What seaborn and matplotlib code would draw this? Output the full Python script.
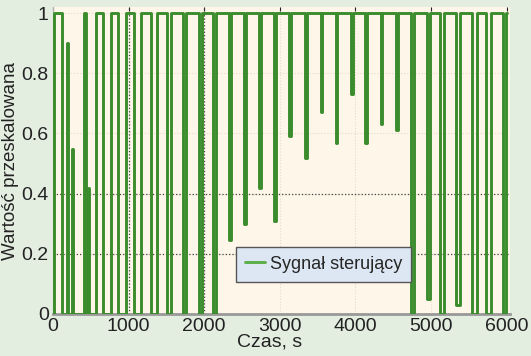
import numpy as np
import pandas as pd
import matplotlib
matplotlib.use('Agg')
import matplotlib.pyplot as plt
import seaborn as sns

# switching instants [s] and the level the signal holds from that instant on
czas = [0, 12, 118, 185, 205, 245, 262, 415, 432, 465, 480,
        575, 660, 765, 855, 965, 1075, 1170, 1300, 1370, 1510,
        1565, 1725, 1765, 1930, 1975, 2118, 2150, 2325, 2355, 2525,
        2555, 2725, 2755, 2925, 2955, 3125, 3150, 3330, 3355, 3540,
        3562, 3738, 3760, 3942, 3962, 4130, 4152, 4335, 4357, 4535,
        4557, 4740, 4772, 4940, 4980, 5120, 5175, 5325, 5385, 5535,
        5605, 5730, 5797, 5955, 5996, 6000]
sygnal = [0.0, 1.0, 0.0, 0.9, 0.0, 0.55, 0.0, 1.0, 0.0, 0.42, 0.0,
          1.0, 0.0, 1.0, 0.0, 1.0, 0.0, 1.0, 0.0, 1.0, 0.0,
          1.0, 0.0, 1.0, 0.0, 1.0, 0.0, 1.0, 0.245, 1.0, 0.30,
          1.0, 0.42, 1.0, 0.31, 1.0, 0.59, 1.0, 0.52, 1.0, 0.67,
          1.0, 0.57, 1.0, 0.73, 1.0, 0.57, 1.0, 0.63, 1.0, 0.61,
          1.0, 0.0, 1.0, 0.05, 1.0, 0.0, 1.0, 0.03, 1.0, 0.0,
          1.0, 0.0, 1.0, 0.0, 1.0, 1.0]

x_ticks = [0, 1000, 2000, 3000, 4000, 5000, 6000]
y_ticks = [0, 0.2, 0.4, 0.6, 0.8, 1]
y_labels = ['0', '0.2', '0.4', '0.6', '0.8', '1']

df = pd.DataFrame({'Czas': czas, 'Sygnal': sygnal})

sns.set_style('white')
plt.rcParams['font.family'] = ['Liberation Sans Narrow', 'Liberation Sans', 'DejaVu Sans']

fig = plt.figure(figsize=(5.31, 3.56), dpi=100, facecolor='#e3eee1')
ax = fig.add_axes([0.0998, 0.118, 0.8602, 0.862])
ax.set_facecolor('#fdf6e9')

# grid: faint everywhere, dark dotted where the original shows it
ax.grid(True, color='#e2dccd', linestyle=':', linewidth=0.8)
for xv in [1000, 2000]:
    ax.axvline(xv, color='#444444', linestyle=':', linewidth=0.9, zorder=1)
for yv in [0.2, 0.4]:
    ax.axhline(yv, color='#444444', linestyle=':', linewidth=0.9, zorder=1)

sns.lineplot(data=df, x='Czas', y='Sygnal', drawstyle='steps-post', estimator=None,
             color='#3b8c2d', linewidth=2.1, solid_joinstyle='round',
             label='Sygnał sterujący', ax=ax, zorder=3)

ax.set_xlim(0, 6040)
ax.set_ylim(0, 1.02)
ax.set_xticks(x_ticks)
ax.set_yticks(y_ticks)
ax.set_yticklabels(y_labels)
ax.tick_params(axis='both', labelsize=14, direction='in', length=3, pad=3,
               top=True, colors='#222222')
ax.set_xlabel('Czas, s', fontsize=14, color='#222222')
ax.xaxis.set_label_coords(0.475, -0.064)
ax.set_ylabel('Wartość przeskalowana', fontsize=13.5, color='#222222',
              family=['Liberation Sans', 'DejaVu Sans'])
ax.yaxis.set_label_coords(-0.074, 0.5)

for s in ['top', 'right']:
    ax.spines[s].set_visible(False)
ax.spines['left'].set_color('#b0b0b0')
ax.spines['bottom'].set_color('#999999')
ax.spines['bottom'].set_linewidth(2.0)

leg = ax.legend(loc='lower left', bbox_to_anchor=(0.40, 0.105), fontsize=13,
                frameon=True, fancybox=False, handlelength=1.1, handletextpad=0.3,
                borderpad=0.5, borderaxespad=0)
leg.get_frame().set_facecolor('#dde7f3')
leg.get_frame().set_edgecolor('#555555')
leg.get_frame().set_alpha(1)
leg.get_lines()[0].set_color('#5cae49')

fig.savefig('out.png', dpi=100, facecolor=fig.get_facecolor())
